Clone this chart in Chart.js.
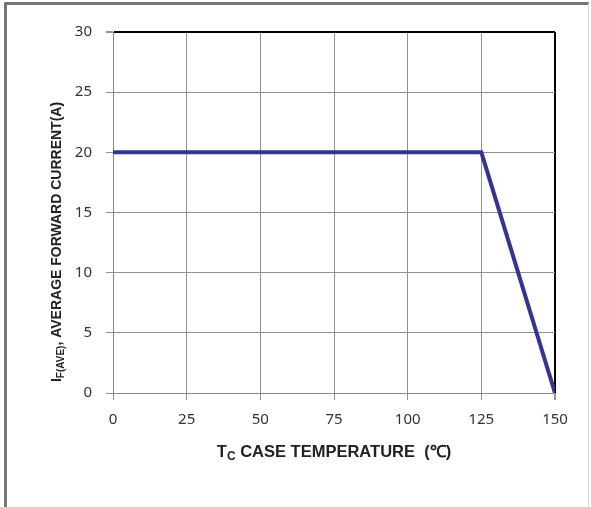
<!DOCTYPE html>
<html>
<head>
<meta charset="utf-8">
<script src="https://cdn.jsdelivr.net/npm/chart.js@4"></script>
<style>
  body { margin: 0; background: #fff; }
  #frame {
    position: absolute; left: 4px; top: 2px; width: 581px; height: 505px;
    border-top: 3px solid #777; border-left: 3px solid #777; border-right: 1px solid #ddd;
  }
  #wrap { position: absolute; left: 0; top: 0; width: 591px; height: 507px; }
</style>
</head>
<body>
<div id="frame"></div>
<div id="wrap"><canvas id="myChart" width="591" height="507"></canvas></div>
<script>
const temps = [0, 125, 150];
const current = [20, 20, 0];
const xTicks = [0, 25, 50, 75, 100, 125, 150];
const yTicks = [0, 5, 10, 15, 20, 25, 30];

const yTitle = [
  { t: "I", sub: false },
  { t: "F(AVE)", sub: true },
  { t: ", AVERAGE FORWARD CURRENT(A)", sub: false },
];
const xTitle = [
  { t: "T", sub: false },
  { t: "C", sub: true },
  { t: " CASE TEMPERATURE  (\u2103)", sub: false },
];

function drawParts(ctx, parts, cx, cy, size) {
  const big = "bold " + size + "px 'Liberation Sans'";
  const small = "bold " + Math.round(size * 0.72) + "px 'Liberation Sans'";
  let total = 0;
  parts.forEach((p) => {
    ctx.font = p.sub ? small : big;
    total += ctx.measureText(p.t).width;
  });
  let x = cx - total / 2;
  ctx.textBaseline = "alphabetic";
  ctx.textAlign = "left";
  parts.forEach((p) => {
    ctx.font = p.sub ? small : big;
    ctx.fillText(p.t, x, p.sub ? cy + 3 : cy);
    x += ctx.measureText(p.t).width;
  });
}

const titles = {
  id: "titles",
  afterDraw(chart) {
    const ctx = chart.ctx;
    const a = chart.chartArea;
    ctx.save();
    ctx.fillStyle = "#222";
    drawParts(ctx, xTitle, (a.left + a.right) / 2, 457, 16.5);
    ctx.translate(61, 242);
    ctx.rotate(-Math.PI / 2);
    drawParts(ctx, yTitle, 0, 0, 14);
    ctx.restore();
  },
};

function makeChart() {
  const divChart = document.getElementById("myChart");
  const tickFont = { family: "'Noto Sans', sans-serif", size: 15 };
  new Chart(divChart, {
    type: "scatter",
    data: {
      datasets: [
        {
          label: "IF",
          data: temps.map((t, i) => ({ x: t, y: current[i] })),
          showLine: true,
          borderColor: "#333399",
          borderWidth: 4,
          pointRadius: 0,
          tension: 0,
        },
      ],
    },
    options: {
      responsive: false,
      animation: false,
      layout: { padding: { top: 32, right: 36, left: 0, bottom: 0 } },
      plugins: { legend: { display: false }, tooltip: { enabled: false } },
      scales: {
        x: {
          type: "linear",
          min: 0,
          max: 150,
          afterBuildTicks: (s) => { s.ticks = xTicks.map((v) => ({ value: v })); },
          afterFit: (s) => { s.height = 114; },
          grid: {
            color: (c) => (c.tick && c.tick.value === 150 ? "#000" : "#909090"),
            lineWidth: (c) => (c.tick && c.tick.value === 150 ? 2 : 1),
            tickLength: 7,
            tickColor: "#909090",
          },
          border: { color: "#888" },
          ticks: { color: "#333", font: tickFont, padding: 11 },
        },
        y: {
          min: 0,
          max: 30,
          afterBuildTicks: (s) => { s.ticks = yTicks.map((v) => ({ value: v })); },
          afterFit: (s) => { s.width = 113; },
          grid: {
            color: (c) => (c.tick && c.tick.value === 30 ? "#000" : "#909090"),
            lineWidth: (c) => (c.tick && c.tick.value === 30 ? 2 : 1),
            tickLength: 7,
            tickColor: "#909090",
          },
          border: { color: "#888" },
          ticks: { color: "#333", font: tickFont, padding: 14 },
        },
      },
    },
    plugins: [titles],
  });
}

Promise.all([
  document.fonts.load("15px 'Noto Sans'"),
  document.fonts.load("bold 16px 'Liberation Sans'"),
]).then(makeChart, makeChart);
</script>
</body>
</html>
